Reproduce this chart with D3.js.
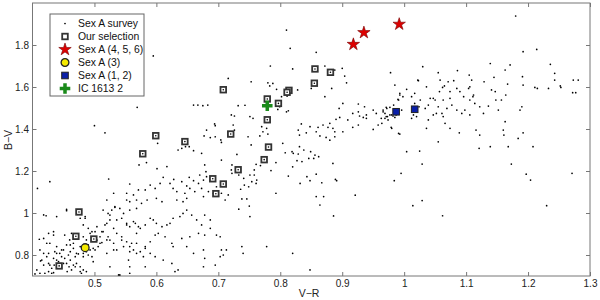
<!DOCTYPE html>
<meta charset="utf-8">
<style>
body { margin: 0; background: #fff; }
svg { display: block; font-family: "Liberation Sans", Arial, sans-serif; }
.tick text { font-size: 10px; fill: #222; }
.legend text { font-size: 10.4px; fill: #111; }
</style>
<body>
<svg width="600" height="300"></svg>
<script src="https://d3js.org/d3.v7.min.js"></script>
<script>

// Sex A survey, [V-R, B-V]
var survey = [
  [0.407,0.729],[0.412,0.713],[0.420,0.713],[0.426,0.721],[0.431,0.713],[0.418,0.752],[0.426,0.760],[0.431,0.737],
  [0.435,0.752],[0.415,0.776],[0.423,0.792],[0.434,0.784],[0.439,0.776],[0.447,0.792],[0.452,0.784],[0.455,0.760],
  [0.461,0.776],[0.459,0.744],[0.463,0.729],[0.466,0.752],[0.471,0.760],[0.477,0.744],[0.482,0.729],[0.469,0.792],
  [0.474,0.805],[0.482,0.792],[0.490,0.800],[0.496,0.792],[0.498,0.768],[0.426,0.808],[0.436,0.816],[0.444,0.808],
  [0.450,0.824],[0.461,0.816],[0.466,0.832],[0.477,0.840],[0.487,0.816],[0.501,0.824],[0.506,0.840],[0.509,0.856],
  [0.504,0.871],[0.493,0.903],[0.482,0.887],[0.466,0.856],[0.455,0.848],[0.439,0.840],[0.428,0.856],[0.418,0.879],
  [0.426,0.903],[0.434,0.895],[0.452,0.895],[0.482,0.943],[0.490,0.927],[0.496,0.911],[0.512,0.911],[0.517,0.943],
  [0.520,0.951],[0.522,0.887],[0.525,0.871],[0.509,0.887],[0.422,0.987],[0.439,0.983],[0.455,1.017],[0.477,0.975],
  [0.485,0.983],[0.504,0.935],[0.525,0.990],[0.533,1.027],[0.528,1.014],[0.541,1.022],[0.552,1.062],[0.557,1.054],
  [0.568,1.062],[0.576,1.046],[0.585,1.062],[0.600,1.070],[0.609,1.054],[0.633,1.062],[0.643,1.054],[0.649,1.070],
  [0.536,0.967],[0.544,0.975],[0.552,0.951],[0.557,0.935],[0.563,0.959],[0.571,0.935],[0.582,0.943],[0.590,0.975],
  [0.595,0.967],[0.600,0.951],[0.609,0.935],[0.617,0.943],[0.622,0.951],[0.627,0.975],[0.638,0.983],[0.643,0.998],
  [0.649,1.014],[0.657,0.990],[0.665,0.967],[0.673,0.943],[0.678,0.990],[0.687,0.967],[0.514,0.911],[0.536,0.903],
  [0.544,0.871],[0.552,0.863],[0.560,0.856],[0.568,0.856],[0.582,0.832],[0.590,0.863],[0.598,0.895],[0.603,0.903],
  [0.614,0.887],[0.625,0.856],[0.627,0.840],[0.641,0.879],[0.654,0.887],[0.668,0.903],[0.678,0.895],[0.687,0.927],
  [0.697,0.895],[0.703,0.887],[0.705,0.824],[0.708,0.800],[0.676,0.824],[0.678,0.784],[0.660,0.808],[0.649,0.840],
  [0.557,0.816],[0.563,0.824],[0.555,0.776],[0.557,0.744],[0.557,0.713],[0.525,0.744],[0.479,0.713],[0.487,0.721],
  [0.541,0.705],[0.582,0.744],[0.630,0.721],[0.635,0.729],[0.676,0.744],[0.695,0.752],[0.703,0.792],[0.713,0.824],
  [0.625,0.760],[0.611,0.776],[0.598,0.792],[0.590,0.808],[0.579,0.792],[0.568,0.808],[0.547,0.840],[0.531,0.824],
  [0.520,0.808],
  [0.404,0.710],[0.434,0.716],[0.413,0.772],[0.428,0.752],[0.442,0.768],[0.450,0.760],[0.456,0.721],[0.469,0.744],
  [0.477,0.721],[0.458,0.800],[0.471,0.808],[0.482,0.808],[0.493,0.824],[0.498,0.832],[0.512,0.859],[0.490,0.848],
  [0.461,0.848],[0.447,0.824],[0.439,0.808],[0.418,0.808],[0.423,0.856],[0.412,0.824],[0.463,0.903],[0.460,0.872],
  [0.487,0.872],[0.501,0.911],[0.485,0.975],[0.455,1.011],[0.418,0.991],[0.434,0.911],[0.411,0.875],[0.520,0.872],
  [0.531,0.856],[0.536,0.824],[0.557,0.840],[0.552,0.943],[0.566,0.951],[0.574,0.927],[0.568,0.903],[0.544,0.887],
  [0.531,0.927],[0.525,0.967],[0.547,0.998],[0.557,1.014],[0.568,1.022],[0.539,0.705],[0.574,0.816],[0.582,0.840],
  [0.552,1.094],[0.563,1.086],[0.571,1.110],[0.582,1.110],[0.590,1.133],[0.598,1.117],[0.606,1.141],[0.611,1.170],
  [0.622,1.141],[0.627,1.117],[0.633,1.102],[0.641,1.149],[0.646,1.094],[0.654,1.117],[0.662,1.102],[0.668,1.141],
  [0.673,1.117],[0.676,1.078],[0.684,1.102],[0.692,1.094],[0.697,1.125],[0.705,1.094],[0.711,1.062],[0.716,1.086],
  [0.670,1.181],[0.676,1.157],[0.681,1.173],[0.687,1.154],[0.653,1.170],[0.660,1.154],[0.628,1.160],[0.649,1.129],
  [0.531,1.094],[0.533,1.030],[0.520,1.062],[0.514,1.014],[0.522,0.998],
  [0.569,1.503],[0.660,1.514],[0.667,1.514],[0.675,1.511],[0.683,1.514],[0.500,1.416],[0.517,1.382],[0.694,1.424],
  [0.695,1.416],[0.681,1.395],[0.677,1.367],[0.687,1.359],[0.695,1.363],[0.704,1.348],[0.705,1.336],[0.602,1.332],
  [0.635,1.300],[0.641,1.308],[0.647,1.316],[0.660,1.297],[0.653,1.316],[0.673,1.284],[0.584,1.240],[0.572,1.229],
  [0.601,1.211],[0.617,1.221],[0.705,1.252],[0.678,1.229],[0.680,1.197],[0.523,1.162],[0.428,1.149],[0.408,1.117],
  [0.557,1.138],[0.595,1.748],
  [0.810,1.871],[0.816,1.784],[0.858,1.765],[0.784,1.700],[0.820,1.686],[0.716,1.641],[0.753,1.625],[0.780,1.620],
  [0.788,1.617],[0.783,1.605],[0.794,1.589],[0.802,1.554],[0.811,1.557],[0.828,1.586],[0.850,1.593],[0.872,1.700],
  [0.888,1.681],[0.900,1.689],[0.904,1.652],[0.907,1.620],[0.883,1.593],[0.872,1.554],[0.901,1.522],[0.895,1.498],
  [0.926,1.519],[0.936,1.506],[0.917,1.474],[0.928,1.462],[0.939,1.467],[0.934,1.455],[0.955,1.474],[0.966,1.490],
  [0.971,1.503],[0.978,1.668],[0.985,1.609],[0.993,1.562],[0.990,1.541],[0.998,1.554],[1.004,1.589],[1.017,1.570],
  [1.022,1.633],[0.939,1.451],[0.950,1.490],[0.963,1.451],[0.977,1.467],[0.926,1.482],[0.909,1.443],[0.896,1.455],
  [0.890,1.446],[0.880,1.427],[0.869,1.419],[0.861,1.408],[0.877,1.408],[0.885,1.403],[0.888,1.387],[0.858,1.387],
  [0.842,1.382],[0.831,1.371],[0.829,1.395],[0.834,1.424],[0.848,1.411],[0.864,1.367],[0.874,1.360],[0.880,1.347],
  [0.888,1.363],[0.901,1.387],[0.917,1.408],[0.926,1.419],[0.950,1.398],[0.958,1.419],[0.979,1.408],[0.993,1.376],
  [0.971,1.459],[0.982,1.462],[0.987,1.467],[0.969,1.474],[0.721,1.467],[0.726,1.462],[0.732,1.511],[0.743,1.513],
  [0.751,1.459],[0.756,1.451],[0.724,1.419],[0.726,1.395],[0.748,1.363],[0.770,1.411],[0.778,1.403],[0.780,1.376],
  [0.767,1.367],[0.799,1.506],[0.796,1.493],[0.810,1.482],[0.813,1.487],[0.804,1.332],[0.831,1.316],[0.778,1.316],
  [0.753,1.324],[0.772,1.387],
  [1.180,1.938],[1.192,1.768],[1.214,1.779],[1.236,1.708],[1.243,1.665],[1.139,1.712],[1.171,1.705],[1.163,1.681],
  [1.030,1.697],[1.023,1.630],[1.055,1.668],[1.058,1.633],[1.062,1.598],[1.065,1.605],[1.071,1.625],[1.074,1.578],
  [1.080,1.630],[1.057,1.578],[1.086,1.678],[1.105,1.657],[1.109,1.633],[1.106,1.601],[1.104,1.593],[1.112,1.562],
  [1.111,1.554],[1.129,1.625],[1.141,1.586],[1.147,1.578],[1.145,1.646],[1.167,1.614],[1.164,1.562],[1.191,1.649],
  [1.192,1.609],[1.190,1.506],[1.211,1.598],[1.215,1.593],[1.233,1.593],[1.243,1.633],[1.252,1.605],[1.253,1.598],
  [1.273,1.633],[1.281,1.633],[1.272,1.573],[1.277,1.573],[0.993,1.570],[0.991,1.538],[0.983,1.514],[0.977,1.503],
  [0.972,1.498],[0.966,1.482],[0.969,1.451],[0.974,1.443],[0.964,1.427],[0.980,1.467],[0.988,1.474],[0.996,1.490],
  [1.012,1.554],[1.017,1.522],[1.026,1.538],[1.024,1.506],[1.036,1.601],[1.042,1.546],[1.047,1.546],[1.050,1.538],
  [1.055,1.506],[1.052,1.474],[1.061,1.474],[1.063,1.538],[1.074,1.546],[1.077,1.514],[1.069,1.498],[1.085,1.490],
  [1.093,1.474],[1.098,1.490],[1.106,1.538],[1.114,1.522],[1.122,1.506],[1.128,1.474],[1.136,1.509],[1.106,1.467],
  [1.096,1.554],[1.085,1.593],[1.090,1.578],[1.039,1.514],[1.034,1.498],[1.039,1.443],[1.015,1.467],[1.012,1.451],
  [1.020,1.459],[1.047,1.467],[1.063,1.459],[1.066,1.427],[1.074,1.403],[1.089,1.382],[1.116,1.395],[1.122,1.371],
  [1.160,1.395],[1.161,1.371],[1.139,1.316],[1.121,1.308],[1.168,1.316],[1.208,1.316],[1.184,1.355],[1.192,1.382],
  [1.055,1.339],[1.036,1.403],[0.980,1.403],[0.991,1.379],[0.973,1.459],[0.985,1.455],[1.163,1.435],[1.148,1.538],
  [1.157,1.538],[1.152,1.490],[1.187,1.490],
  [0.829,1.281],[0.838,1.300],[0.849,1.292],[0.856,1.276],[0.862,1.268],[0.846,1.260],[0.854,1.260],[0.827,1.249],
  [0.820,1.220],[0.885,1.236],[0.858,1.185],[0.848,1.154],[0.867,1.144],[0.889,1.160],[0.891,1.154],[1.004,1.292],
  [1.025,1.295],[1.029,1.233],[0.995,1.189],[0.984,1.154],[0.921,1.085],[0.858,1.078],[0.870,1.078],[0.864,1.038],
  [0.886,0.986],[1.014,1.035],[1.029,1.059],[1.062,0.987],[1.173,1.233],[1.197,1.185],[1.204,1.157],[1.271,1.189],
  [1.230,1.035],[0.819,1.292],[0.821,1.284],
  [0.730,1.279],[0.722,1.229],[0.721,1.205],[0.733,1.181],[0.741,1.165],[0.751,1.181],[0.758,1.205],[0.761,1.232],
  [0.768,1.226],[0.758,1.181],[0.762,1.157],[0.761,1.141],[0.754,1.149],[0.749,1.125],[0.736,1.113],[0.742,1.133],
  [0.738,1.067],[0.746,1.067],[0.750,1.033],[0.733,1.018],[0.751,0.983],[0.793,1.240],[0.785,1.202],[0.793,1.094],
  [0.808,1.287],[0.835,1.245],[0.813,1.176],[0.843,1.173],[0.832,1.141],[0.722,1.189],
  [0.738,0.840],[0.740,0.808],[0.778,0.840],[0.820,0.808],[0.848,0.729]
];

// Our selection
var selection = [
  [0.443,0.748],[0.475,1.005],[0.470,0.889],[0.499,0.876],[0.578,1.282],[0.599,1.368],[0.646,1.340],[0.708,1.587],
  [0.779,1.543],[0.797,1.522],[0.814,1.584],[0.811,1.575],[0.856,1.686],[0.881,1.670],[0.855,1.618],[0.779,1.444],
  [0.720,1.376],[0.781,1.314],[0.774,1.254],[0.732,1.206],[0.691,1.163],[0.708,1.138],[0.696,1.092]
];
var sexA456 = [[0.918,1.803],[0.935,1.859],[0.992,1.899]];
var sexA3 = [[0.485,0.835]];
var sexA12 = [[0.987,1.482],[1.017,1.494]];
var ic1613 = [[0.779,1.511]];

var xTicks = [0.5, 0.6, 0.7, 0.8, 0.9, 1, 1.1, 1.2, 1.3];
var yTicks = [0.8, 1, 1.2, 1.4, 1.6, 1.8];
var legendLabels = ["Sex A survey", "Our selection", "Sex A (4, 5, 6)", "Sex A (3)", "Sex A (1, 2)", "IC 1613 2"];

var svg = d3.select("svg"),
    margin = {top: 3, right: 10, bottom: 24, left: 32.5},
    width = 600 - margin.left - margin.right,
    height = 300 - margin.top - margin.bottom,
    g = svg.append("g").attr("transform", "translate(" + margin.left + "," + margin.top + ")");

var x = d3.scaleLinear().domain([0.4, 1.3]).range([0, width]);
var y = d3.scaleLinear().domain([0.7, 2.0]).range([height, 0]);

var fmt = function(d) { return String(d); };

// axes, ticks pointing inward on all four sides
g.append("g").attr("transform", "translate(0," + height + ")")
    .call(d3.axisBottom(x).tickValues(xTicks).tickSizeInner(-4).tickSizeOuter(0).tickPadding(4).tickFormat(fmt));
g.append("g")
    .call(d3.axisTop(x).tickValues(xTicks).tickSizeInner(-4).tickSizeOuter(0).tickFormat(""));
g.append("g")
    .call(d3.axisLeft(y).tickValues(yTicks).tickSizeInner(-4).tickSizeOuter(0).tickPadding(3.5).tickFormat(fmt));
g.append("g").attr("transform", "translate(" + width + ",0)")
    .call(d3.axisRight(y).tickValues(yTicks).tickSizeInner(-4).tickSizeOuter(0).tickFormat(""));

g.selectAll(".domain").remove();
g.selectAll(".tick line").attr("stroke", "#777");

g.append("rect")
    .attr("width", width).attr("height", height)
    .attr("fill", "none").attr("stroke", "#777").attr("stroke-width", 1);

// survey dots
g.append("g").selectAll("circle")
    .data(survey)
  .enter().append("circle")
    .attr("cx", function(d) { return x(d[0]); })
    .attr("cy", function(d) { return y(d[1]); })
    .attr("r", 0.85)
    .attr("fill", "#000");

// selection squares
var sel = g.append("g").selectAll("g")
    .data(selection)
  .enter().append("g")
    .attr("transform", function(d) { return "translate(" + x(d[0]) + "," + y(d[1]) + ")"; });
sel.append("rect")
    .attr("x", -2.8).attr("y", -2.8).attr("width", 5.6).attr("height", 5.6)
    .attr("fill", "#fff").attr("stroke", "#333").attr("stroke-width", 1.8);
sel.append("circle").attr("r", 0.8).attr("fill", "#000");

var star = d3.symbol().type(d3.symbolStar).size(48),
    cross = d3.symbol().type(d3.symbolCross).size(62);

g.append("g").selectAll("path")
    .data(sexA456)
  .enter().append("path")
    .attr("transform", function(d) { return "translate(" + x(d[0]) + "," + y(d[1]) + ")"; })
    .attr("d", star)
    .attr("fill", "#dd0000").attr("stroke", "#700").attr("stroke-width", 0.6);

g.append("g").selectAll("circle")
    .data(sexA3)
  .enter().append("circle")
    .attr("cx", function(d) { return x(d[0]); })
    .attr("cy", function(d) { return y(d[1]); })
    .attr("r", 3.9)
    .attr("fill", "#f5ea00").attr("stroke", "#222").attr("stroke-width", 1.3);

g.append("g").selectAll("rect")
    .data(sexA12)
  .enter().append("rect")
    .attr("x", function(d) { return x(d[0]) - 3.3; })
    .attr("y", function(d) { return y(d[1]) - 3.3; })
    .attr("width", 6.6).attr("height", 6.6)
    .attr("fill", "#0a1fa8").attr("stroke", "#222").attr("stroke-width", 1);

g.append("g").selectAll("path")
    .data(ic1613)
  .enter().append("path")
    .attr("transform", function(d) { return "translate(" + x(d[0]) + "," + y(d[1]) + ")"; })
    .attr("d", cross)
    .attr("fill", "#1a8a1a");

// axis labels
svg.append("text")
    .attr("x", 309).attr("y", 297)
    .attr("text-anchor", "middle").attr("font-size", 10.5).attr("fill", "#222")
    .text("V\u2212R");
svg.append("text")
    .attr("transform", "translate(12,140) rotate(-90)")
    .attr("text-anchor", "middle").attr("font-size", 10.5).attr("fill", "#222")
    .text("B\u2212V");

// legend
var legend = svg.append("g").attr("class", "legend").attr("transform", "translate(50,14)");
legend.append("rect")
    .attr("width", 94).attr("height", 82)
    .attr("fill", "#fff").attr("stroke", "#666").attr("stroke-width", 1);

var rowY = function(i) { return 9.5 + i * 13; };
var items = legend.selectAll(".item")
    .data(legendLabels)
  .enter().append("g")
    .attr("class", "item")
    .attr("transform", function(d, i) { return "translate(15," + rowY(i) + ")"; });

items.append("text")
    .attr("x", 13).attr("dy", "0.35em")
    .text(function(d) { return d; });

items.each(function(d, i) {
  var s = d3.select(this);
  if (i === 0) s.append("circle").attr("r", 0.85).attr("fill", "#000");
  if (i === 1) {
    s.append("rect").attr("x", -2.8).attr("y", -2.8).attr("width", 5.6).attr("height", 5.6)
      .attr("fill", "#fff").attr("stroke", "#333").attr("stroke-width", 1.8);
  }
  if (i === 2) s.append("path").attr("d", star).attr("fill", "#dd0000").attr("stroke", "#700").attr("stroke-width", 0.6);
  if (i === 3) s.append("circle").attr("r", 3.9).attr("fill", "#f5ea00").attr("stroke", "#222").attr("stroke-width", 1.3);
  if (i === 4) {
    s.append("rect").attr("x", -3.3).attr("y", -3.3).attr("width", 6.6).attr("height", 6.6)
      .attr("fill", "#0a1fa8").attr("stroke", "#222").attr("stroke-width", 1);
  }
  if (i === 5) s.append("path").attr("d", cross).attr("fill", "#1a8a1a");
});

</script>
</body>
